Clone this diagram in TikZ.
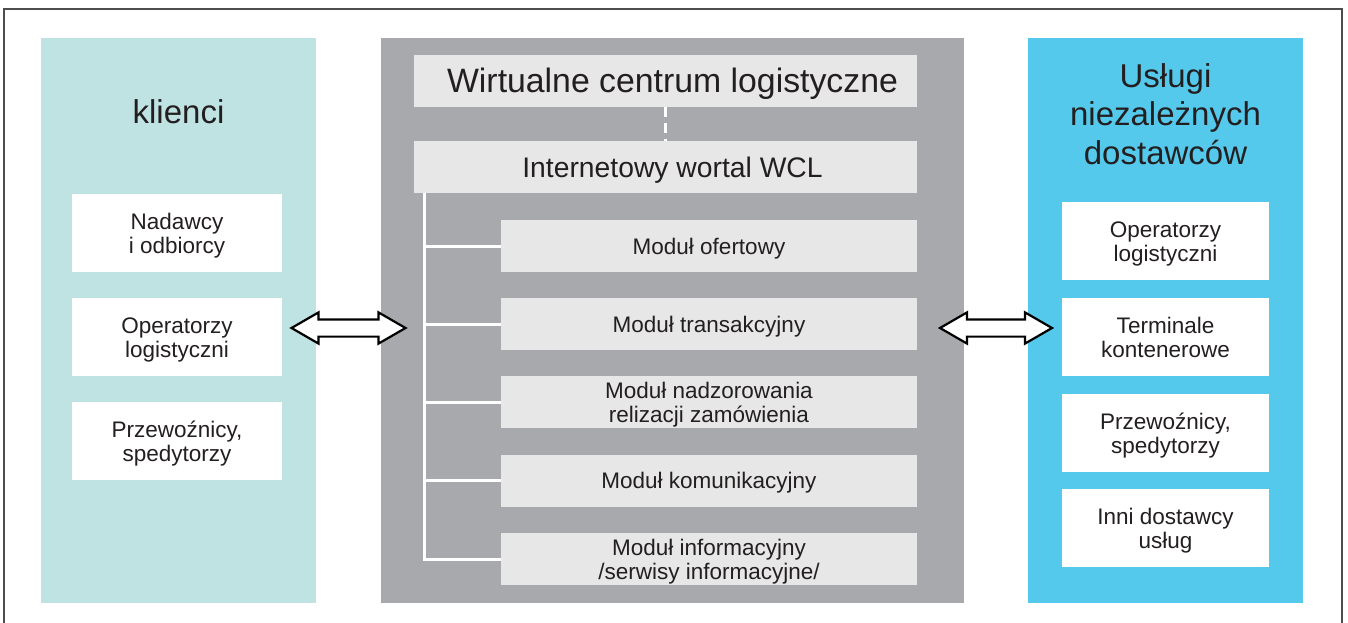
\documentclass[tikz,border=0pt]{standalone}
\usepackage{fontspec}
\setmainfont{Liberation Sans}
\usetikzlibrary{shapes.arrows,calc}
\definecolor{clientbg}{HTML}{BFE3E3}
\definecolor{centerbg}{HTML}{A7A9AC}
\definecolor{supplierbg}{HTML}{55C9EC}
\definecolor{lightbox}{HTML}{E6E7E6}
\definecolor{ink}{HTML}{231F20}
\definecolor{framegray}{HTML}{4D4D4F}
\tikzset{
  panel/.style={rectangle, inner sep=0pt, minimum height=565pt},
  % fixed text box heights keep the baselines at the same place in every box
  bodytext/.style={text=ink, align=center, text height=16.7pt, text depth=0pt,
    font=\fontsize{22.5}{24.5}\selectfont},
  twolines/.style={text height=41.2pt},
  whitebox/.style={rectangle, fill=white, inner sep=0pt, minimum height=78pt,
    bodytext, twolines},
  modulebox/.style={rectangle, fill=lightbox, inner sep=0pt, minimum width=416pt,
    minimum height=52pt, bodytext},
  headbox/.style={rectangle, fill=lightbox, inner sep=0pt, minimum width=503pt,
    minimum height=52pt},
  headtext/.style={text=ink, inner sep=0pt, text depth=0pt},
  paneltitle/.style={text=ink, align=center, inner sep=0pt,
    font=\fontsize{33}{38.5}\selectfont},
  treeline/.style={white, line width=3pt},
  linkarrow/.style={double arrow, draw=black, fill=white, line width=2.2pt,
    inner xsep=0pt, inner ysep=7.5pt, double arrow head extend=7pt,
    double arrow tip angle=60, minimum height=#1},
}
\begin{document}
\begin{tikzpicture}[x=1pt, y=-1pt]
\useasboundingbox (0,0) rectangle (1348,623);
% outer frame, open at the bottom
\draw[framegray, line width=1.6pt] (4,623) -- (4,9) -- (1342,9) -- (1342,623);

% three columns
\node[panel, fill=clientbg, minimum width=275pt] (clients) at (178.5,320.5) {};
\node[panel, fill=centerbg, minimum width=583pt] (wcl) at (672.5,320.5) {};
\node[panel, fill=supplierbg, minimum width=275pt] (suppliers) at (1165.5,320.5) {};

% left column: clients
\node[paneltitle] (clientsTitle) at (178.5,112) {klienci};
\node[whitebox, minimum width=210pt] (c1) at (177,233) {Nadawcy\\i odbiorcy};
\node[whitebox, minimum width=210pt] (c2) at (177,337) {Operatorzy\\logistyczni};
\node[whitebox, minimum width=210pt] (c3) at (177,441) {Przewoźnicy,\\spedytorzy};

% centre column: the virtual logistics centre
\node[headbox] (title) at (665.5,81) {};
\node[headtext, text height=23pt, font=\fontsize{33.8}{38}\selectfont]
  (titleText) at (wcl.center |- title.center) {Wirtualne centrum logistyczne};
\node[headbox] (portal) at (665.5,167) {};
\node[headtext, text height=20.5pt, font=\fontsize{28.3}{32}\selectfont]
  (portalText) at (wcl.center |- portal.center) {Internetowy wortal WCL};
\draw[white, line width=3pt, dash pattern=on 10pt off 6pt] (title.south) -- (portal.north);

\node[modulebox] (m1) at (709,246) {Moduł ofertowy};
\node[modulebox] (m2) at (709,324) {Moduł transakcyjny};
\node[modulebox, twolines] (m3) at (709,402) {Moduł nadzorowania\\relizacji zamówienia};
\node[modulebox] (m4) at (709,480.5) {Moduł komunikacyjny};
\node[modulebox, twolines] (m5) at (709,559) {Moduł informacyjny\\/serwisy informacyjne/};

\coordinate (trunk) at ([xshift=11pt]portal.south west);
\draw[treeline] (trunk) |- (m5.west);
\foreach \m in {m1,m2,m3,m4}
  \draw[treeline] (trunk |- \m.west) -- (\m.west);

% right column: independent suppliers
\node[paneltitle] (suppliersTitle) at (1165.5,114) {Usługi\\niezależnych\\dostawców};
\node[whitebox, minimum width=207pt] (s1) at (1165.5,241) {Operatorzy\\logistyczni};
\node[whitebox, minimum width=207pt] (s2) at (1165.5,337) {Terminale\\kontenerowe};
\node[whitebox, minimum width=207pt] (s3) at (1165.5,433) {Przewoźnicy,\\spedytorzy};
\node[whitebox, minimum width=207pt] (s4) at (1165.5,528) {Inni dostawcy\\usług};

% two-way links between the columns
\node[linkarrow=114pt] (linkL) at ($(clients.east)!0.5!(wcl.west)+(0,7.5)$) {};
\node[linkarrow=112pt] (linkR) at ($(wcl.east)!0.5!(suppliers.west)+(0,7.5)$) {};
\end{tikzpicture}
\end{document}
